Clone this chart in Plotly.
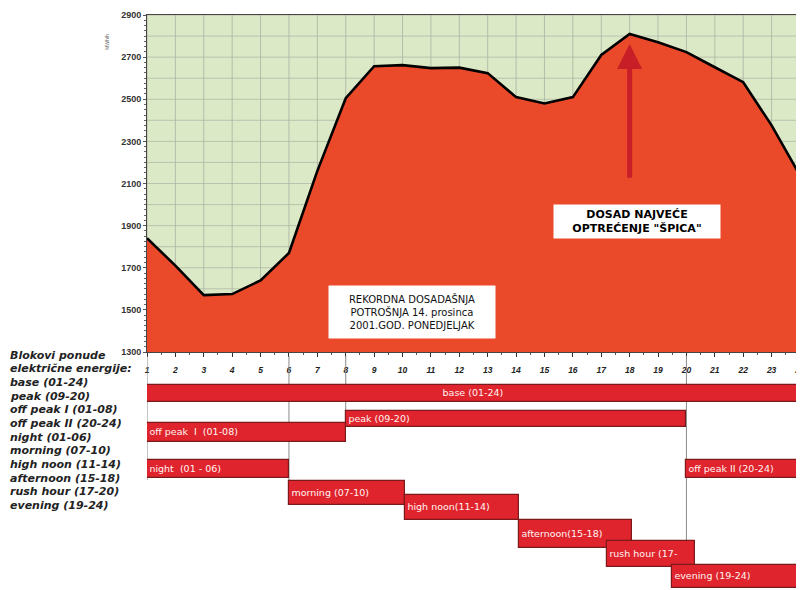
import plotly.graph_objects as go

# ---------------- data ----------------
hours = list(range(1, 25))
load_mw = [1840, 1710, 1570, 1575, 1640, 1770, 2160, 2505, 2657, 2662, 2648, 2650,
           2624, 2510, 2480, 2510, 2710, 2810, 2771, 2724, 2652, 2581, 2376, 2138]

y_ticks = [1300, 1500, 1700, 1900, 2100, 2300, 2500, 2700, 2900]

block_labels = ["base (01-24)", "peak (09-20)", "off peak  I  (01-08)", "off peak II (20-24)",
                "night  (01 - 06)", "morning (07-10)", "high noon(11-14)", "afternoon(15-18)",
                "rush hour (17-", "evening (19-24)"]
block_start = [1, 8, 1, 20, 1, 6, 10.1, 14.1, 17.2, 19.5]
block_end = [24, 20, 8, 24, 6, 10.1, 14.1, 18.1, 20.3, 24]

legend_lines = ["Blokovi ponude", "električne energije:", "base (01-24)", "peak (09-20)",
                "off peak I (01-08)", "off peak II (20-24)", "night (01-06)",
                "morning (07-10)", "high noon (11-14)", "afternoon (15-18)",
                "rush hour (17-20)", "evening (19-24)"]

divider_hours = [1, 6, 8, 20]

record_text = "REKORDNA DOSADAŠNJA<br>POTROŠNJA 14. prosinca<br>2001.GOD. PONEDJELJAK"
peak_text = "<b>DOSAD NAJVEĆE<br>OPTREĆENJE \"ŠPICA\"</b>"
unit_text = "MWh/h"

# ---------------- page geometry (screen pixels; page body has an 8px margin) ----------------
W, H = 804, 590
OFF = 8
def px(s):  # screen x -> paper fraction
    return (s - OFF) / W
def py(s):  # screen y -> paper fraction
    return 1 - (s - OFF) / H

X0, X1 = 147, 800
YT, YB = 15, 352

# Gantt rows: centre and thickness in screen px
row_center = [393, 419, 432, 469, 469, 493, 507, 534, 554, 576]
row_height = [17, 16, 19, 18, 18, 24, 25, 28, 26, 23]
divider_bottom = [480, 480, 425, 565]

FONT = "Liberation Sans, Arial, sans-serif"
WIDE = "DejaVu Sans, Verdana, sans-serif"
AREA = "#EA4A2A"
BAR = "#E0242E"
BAR_EDGE = "#7a1a1a"
GREEN = "#DCE9C6"

fig = go.Figure()

# load curve
fig.add_trace(go.Scatter(
    x=hours, y=load_mw, mode="lines", fill="tozeroy",
    line=dict(color="black", width=2.6), fillcolor=AREA,
    hoverinfo="x+y", showlegend=False, xaxis="x", yaxis="y"))

# Gantt blocks
for lab, s, e, c, h in zip(block_labels, block_start, block_end, row_center, row_height):
    fig.add_trace(go.Bar(
        x=[e - s], base=[s], y=[c], width=[h], orientation="h",
        marker=dict(color=BAR, line=dict(color=BAR_EDGE, width=1.2)),
        text=[lab], textposition="inside",
        insidetextanchor="middle" if lab.startswith("base") else "start",
        textfont=dict(color="#fff4f0", size=9.5, family=WIDE),
        constraintext="none", cliponaxis=False,
        showlegend=False, hoverinfo="text", xaxis="x2", yaxis="y2"))

shapes = [
    dict(type="rect", xref="x domain", yref="y domain", x0=0, x1=1, y0=0, y1=1,
         fillcolor=GREEN, line=dict(width=0), layer="below"),
]
for v in range(1300, 2901, 100):
    shapes.append(dict(type="line", xref="x", yref="y", x0=1, x1=24, y0=v, y1=v,
                       line=dict(color="#a9b3a2", width=0.7), layer="below"))
for hx in hours:
    shapes.append(dict(type="line", xref="x", yref="y", x0=hx, x1=hx, y0=1300, y1=2900,
                       line=dict(color="#a9b3a2", width=0.8), layer="below"))
for hx, yb in zip(divider_hours, divider_bottom):
    shapes.append(dict(type="line", xref="x2", yref="y2", x0=hx, x1=hx, y0=356, y1=yb,
                       line=dict(color="#8a8a8a", width=1), layer="below"))

annotations = [
    dict(text=unit_text, x=px(102), y=py(32), xref="paper", yref="paper", textangle=-90,
         showarrow=False, font=dict(size=5, family=FONT, color="#666")),
    dict(text=record_text, x=10.35, y=1490, xref="x", yref="y", showarrow=False,
         bgcolor="white", borderpad=7, width=152, font=dict(size=10, family=WIDE, color="#111"),
         align="center"),
    dict(text=peak_text, x=18.25, y=1918, xref="x", yref="y", showarrow=False,
         bgcolor="white", borderpad=3, width=160, font=dict(size=11, family=WIDE, color="black"),
         align="center"),
    dict(x=18, y=2762, ax=18, ay=2120, xref="x", yref="y", axref="x", ayref="y",
         text="", showarrow=True, arrowhead=2, arrowsize=1.0, arrowwidth=5,
         arrowcolor="#C81E28"),
]
for i, t in enumerate(legend_lines):
    annotations.append(dict(
        text="<b><i>%s</i></b>" % t, x=px(8), y=py(355 + i * 13.7), xref="paper", yref="paper",
        xanchor="left", yanchor="middle", align="left", showarrow=False,
        font=dict(size=11, family=WIDE, color="#222")))

fig.update_layout(
    width=W, height=H, margin=dict(l=0, r=0, t=0, b=0, autoexpand=False),
    paper_bgcolor="white", plot_bgcolor="rgba(0,0,0,0)",
    bargap=0, barmode="overlay",
    xaxis=dict(domain=[px(X0), px(X1)], range=[1, 24], anchor="y", automargin=False,
               tickvals=hours, ticktext=[str(h) for h in hours],
               ticks="outside", ticklen=4, tickcolor="#333",
               tickfont=dict(size=8.5, family=FONT, color="#222", style="italic", weight="bold"),
               ticklabelstandoff=6,
               showgrid=False,
               showline=True, linecolor="#444", linewidth=1, mirror=True,
               minor=dict(ticks="outside", ticklen=2, dtick=0.5, tickcolor="#555"),
               zeroline=False, fixedrange=True),
    yaxis=dict(domain=[py(YB), py(YT)], range=[1300, 2900], anchor="x", automargin=False,
               tickvals=y_ticks, ticks="outside", ticklen=3, tickcolor="#555",
               tickfont=dict(size=9, family=FONT, color="#333", weight="bold"),
               showgrid=False,
               showline=True, linecolor="#444", linewidth=1, mirror=True,
               minor=dict(ticks="outside", ticklen=2, dtick=25, tickcolor="#666"),
               zeroline=False, fixedrange=True),
    xaxis2=dict(domain=[px(X0), px(X1)], range=[1, 24], anchor="y2", visible=False,
                automargin=False, fixedrange=True),
    yaxis2=dict(domain=[0, py(YB)], range=[H + OFF, YB], anchor="x2", visible=False,
                automargin=False, fixedrange=True),
    shapes=shapes, annotations=annotations,
)

fig.write_html("out.html")
